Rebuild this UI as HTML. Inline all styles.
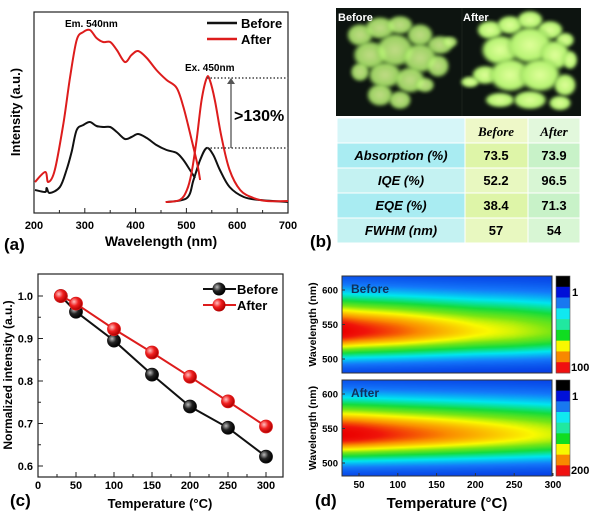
<!DOCTYPE html>
<html><head><meta charset="utf-8">
<style>
html,body{margin:0;padding:0;background:#fff;}
#wrap{position:relative;width:600px;height:515px;overflow:hidden;font-family:"Liberation Sans",sans-serif;}
svg{position:absolute;left:0;top:0;}
canvas{position:absolute;}
</style></head>
<body>
<div id="wrap">
<canvas id="hmTop" width="210" height="97" style="left:342px;top:276px"></canvas>
<canvas id="hmBot" width="210" height="96" style="left:342px;top:380px"></canvas>
<svg id="s" width="600" height="515" xmlns="http://www.w3.org/2000/svg">
<defs>
<radialGradient id="gBlack" cx="35%" cy="35%" r="65%"><stop offset="0" stop-color="#bbb"/><stop offset="0.5" stop-color="#222"/><stop offset="1" stop-color="#000"/></radialGradient>
<radialGradient id="gRed" cx="35%" cy="35%" r="65%"><stop offset="0" stop-color="#ffc0c0"/><stop offset="0.5" stop-color="#f02020"/><stop offset="1" stop-color="#b00000"/></radialGradient>
<radialGradient id="glow" cx="50%" cy="50%" r="50%"><stop offset="0" stop-color="#e0ff9a"/><stop offset="0.75" stop-color="#b4f270"/><stop offset="1" stop-color="#70b040" stop-opacity="0"/></radialGradient>
<filter id="bl"><feGaussianBlur stdDeviation="1.5"/></filter>
</defs>
<g id="pa"></g>
<g id="pb"></g>
<g id="pc"></g>
<g id="pd"></g>
</svg>
</div>
<script>
// ---- Panel (a) data ----
const exWlAfter = [202,222,228,241,258,271,284,297,310,323,336,350,363,379,392,405,422,441,461,481,494,507,521,527];
const exAfter = [31,41,31,43,90,136,173,181,183,175,171,171,163,151,158,162,155,143,133,125,106,80,50,33];
const exWlBefore = [202,222,225,231,251,264,274,284,297,310,323,336,350,363,379,392,405,422,441,461,481,494,507,517];
const exBefore = [23,21,25,20,26,43,61,83,88,91,87,86,86,81,74,76,79,75,68,63,60,53,43,35];
const emWlAfter = [459,487,501,510,520,530,540,546,556,569,585,606,632,658,700];
const emAfter = [11,13,23,40,73,113,135,133,113,76,43,23,15,12,12];
const emWlBefore = [461,501,514,527,540,553,566,585,613,645,700];
const emBefore = [11,15,33,53,65,58,43,26,16,13,11];
const aTicks = [200,300,400,500,600,700];
// ---- Panel (c) data ----
const temps = [30,50,100,150,200,250,300];
const normBefore = [1.0,0.963,0.895,0.815,0.74,0.69,0.622];
const normAfter = [1.0,0.982,0.922,0.867,0.81,0.752,0.693];
const cXTicks = [0,50,100,150,200,250,300];
const cYTicks = [0.6,0.7,0.8,0.9,1.0];
// ---- Panel (b) data ----
const tblRows = ["Absorption (%)","IQE (%)","EQE (%)","FWHM (nm)"];
const tblBefore = ["73.5","52.2","38.4","57"];
const tblAfter = ["73.9","96.5","71.3","54"];
// ---- Panel (d) data ----
const dXTicks = [50,100,150,200,250,300];
const dYTicks = [500,550,600];

const NS="http://www.w3.org/2000/svg";
function mk(parent,tag,attrs,text){const e=document.createElementNS(NS,tag);for(const k in attrs)e.setAttribute(k,attrs[k]);if(text!==undefined)e.textContent=text;parent.appendChild(e);return e;}
function smooth(pts){
  let d='M'+pts[0][0].toFixed(1)+' '+pts[0][1].toFixed(1);
  for(let i=0;i<pts.length-1;i++){
    const p0=pts[Math.max(0,i-1)],p1=pts[i],p2=pts[i+1],p3=pts[Math.min(pts.length-1,i+2)];
    const c1=[p1[0]+(p2[0]-p0[0])/6,p1[1]+(p2[1]-p0[1])/6],c2=[p2[0]-(p3[0]-p1[0])/6,p2[1]-(p3[1]-p1[1])/6];
    d+=` C${c1[0].toFixed(1)} ${c1[1].toFixed(1)} ${c2[0].toFixed(1)} ${c2[1].toFixed(1)} ${p2[0].toFixed(1)} ${p2[1].toFixed(1)}`;
  }
  return d;
}

// ===== Panel A =====
(function(){
const g=document.getElementById('pa');
const x=w=>34+(w-200)*0.508, y=v=>213-v;
let f=mk(g,'rect',{x:34,y:12,width:254,height:201,fill:'none',stroke:'#222','stroke-width':1.2});

for(let w=200;w<=700;w+=50){mk(g,'line',{x1:x(w),x2:x(w),y1:213,y2:w%100?210:208,stroke:'#222'});}
aTicks.forEach(t=>{let e=mk(g,'text',{x:x(t),y:229,'text-anchor':'middle','font-size':11,'font-weight':'bold'},t);});
let xl=mk(g,'text',{x:161,y:246,'text-anchor':'middle','font-size':14,'font-weight':'bold'},'Wavelength (nm)');
let yl=mk(g,'text',{x:20,y:112,'text-anchor':'middle','font-size':13,'font-weight':'bold',transform:'rotate(-90 20 112)'},'Intensity (a.u.)');
let pl=mk(g,'text',{x:4,y:250,'font-size':17,'font-weight':'bold'},'(a)');
function line(ws,vs,col,name){const p=mk(g,'path',{d:smooth(ws.map((w,i)=>[x(w),y(vs[i])])),fill:'none',stroke:col,'stroke-width':2,'stroke-linejoin':'round'});}
line(exWlBefore,exBefore,'#111','excitation-before');
line(emWlBefore,emBefore,'#111','emission-before');
line(exWlAfter,exAfter,'#dd1c1c','excitation-after');
line(emWlAfter,emAfter,'#dd1c1c','emission-after');
const pkA=Math.max(...emAfter),pkB=Math.max(...emBefore);
mk(g,'line',{x1:207,x2:288,y1:y(pkA),y2:y(pkA),stroke:'#444','stroke-dasharray':'1.5 2','stroke-width':1.5});
mk(g,'line',{x1:207,x2:288,y1:y(pkB),y2:y(pkB),stroke:'#444','stroke-dasharray':'1.5 2','stroke-width':1.5});
mk(g,'line',{x1:231,x2:231,y1:y(pkB),y2:y(pkA)+5,stroke:'#555','stroke-width':1.3});
mk(g,'path',{d:`M227 ${y(pkA)+6} L231 ${y(pkA)} L235 ${y(pkA)+6} Z`,fill:'#555'});
let pc=mk(g,'text',{x:234,y:121,'font-size':16,'font-weight':'bold'},'>130%');
let ex=mk(g,'text',{x:185,y:71,'font-size':10,'font-weight':'bold'},'Ex. 450nm');
let em=mk(g,'text',{x:65,y:27,'font-size':10,'font-weight':'bold'},'Em. 540nm');
mk(g,'line',{x1:207,x2:237,y1:23,y2:23,stroke:'#111','stroke-width':2.5});
let l1=mk(g,'text',{x:241,y:28,'font-size':13,'font-weight':'bold'},'Before');
mk(g,'line',{x1:207,x2:237,y1:39,y2:39,stroke:'#dd1c1c','stroke-width':2.5});
let l2=mk(g,'text',{x:241,y:44,'font-size':13,'font-weight':'bold'},'After');
})();

// ===== Panel B =====
(function(){
const g=document.getElementById('pb');
let ph=mk(g,'rect',{x:336,y:8,width:245,height:108,fill:'#0d1410'});
mk(g,'line',{x1:462,x2:462,y1:8,y2:116,stroke:'#1a221c','stroke-width':1});
const blobsB=[[360,35,14,12],[380,28,16,12],[400,25,14,10],[420,35,14,12],[440,45,14,10],[450,42,8,6],[370,55,18,15],[395,50,20,18],[420,58,18,16],[438,66,12,12],[385,75,18,14],[410,80,16,14],[380,95,14,12],[400,100,12,10],[425,85,10,8],[360,72,10,10]];
const blobsA=[[490,30,14,10],[510,25,14,10],[530,20,14,10],[550,30,14,10],[565,40,10,8],[500,50,20,16],[530,45,24,20],[555,55,16,16],[570,60,8,10],[485,75,14,10],[470,82,10,6],[510,75,22,18],[540,75,22,18],[565,85,12,12],[500,100,16,8],[530,100,18,10],[560,103,12,8]];
blobsB.forEach(b=>mk(g,'ellipse',{cx:b[0],cy:b[1],rx:b[2],ry:b[3],fill:'url(#glow)',opacity:0.85,filter:'url(#bl)'}));
blobsA.forEach(b=>mk(g,'ellipse',{cx:b[0],cy:b[1],rx:b[2],ry:b[3],fill:'url(#glow)',filter:'url(#bl)'}));
mk(g,'text',{x:338,y:21,'font-size':11,'font-weight':'bold',fill:'#fff'},'Before');
mk(g,'text',{x:463,y:21,'font-size':11,'font-weight':'bold',fill:'#fff'},'After');
const top=118,h=25;
for(let r=0;r<5;r++){
  const yy=top+r*h;
  const alt=(r%2===1);
  mk(g,'rect',{x:337,y:yy,width:128,height:h,fill:r===0?'#d6f6f8':(alt?'#a9ecf2':'#c4f2f2'),stroke:'#fff','stroke-width':1});
  mk(g,'rect',{x:465,y:yy,width:63,height:h,fill:r===0?'#eef8c8':(alt?'#def5a8':'#e8f8c0'),stroke:'#fff','stroke-width':1});
  mk(g,'rect',{x:528,y:yy,width:52,height:h,fill:r===0?'#e2f8dc':(alt?'#c8f2c8':'#d8f6d4'),stroke:'#fff','stroke-width':1});
}
let h1=mk(g,'text',{x:496,y:136,'text-anchor':'middle','font-size':13,'font-weight':'bold','font-style':'italic','font-family':'Liberation Serif, serif'},'Before');
let h2=mk(g,'text',{x:554,y:136,'text-anchor':'middle','font-size':13,'font-weight':'bold','font-style':'italic','font-family':'Liberation Serif, serif'},'After');
tblRows.forEach((r,i)=>{
  const yy=top+(i+1)*h+17;
  let a=mk(g,'text',{x:401,y:yy,'text-anchor':'middle','font-size':13,'font-weight':'bold','font-style':'italic'},r);
  let b=mk(g,'text',{x:496,y:yy,'text-anchor':'middle','font-size':13,'font-weight':'bold'},tblBefore[i]);
  let c=mk(g,'text',{x:554,y:yy,'text-anchor':'middle','font-size':13,'font-weight':'bold'},tblAfter[i]);
});
let pl=mk(g,'text',{x:310,y:247,'font-size':17,'font-weight':'bold'},'(b)');
})();

// ===== Panel C =====
(function(){
const g=document.getElementById('pc');
const x=t=>38+t*0.76, y=v=>296+(1-v)*425;
let f=mk(g,'rect',{x:38,y:274,width:245,height:203,fill:'none',stroke:'#222','stroke-width':1.2});
for(let t=0;t<=300;t+=25){mk(g,'line',{x1:x(t),x2:x(t),y1:477,y2:t%50?474:472,stroke:'#222'});}
for(let k=0;k<=8;k++){const v=0.6+k*0.05;mk(g,'line',{x1:38,x2:k%2?41:43,y1:y(v),y2:y(v),stroke:'#222'});}
cXTicks.forEach(t=>{let e=mk(g,'text',{x:x(t),y:489,'text-anchor':'middle','font-size':11,'font-weight':'bold'},t);});
cYTicks.forEach(v=>{let e=mk(g,'text',{x:33,y:y(v)+4,'text-anchor':'end','font-size':11,'font-weight':'bold'},v.toFixed(1));});
let xl=mk(g,'text',{x:160,y:508,'text-anchor':'middle','font-size':13,'font-weight':'bold'},'Temperature (°C)');
let yl=mk(g,'text',{x:12,y:375,'text-anchor':'middle','font-size':12,'font-weight':'bold',transform:'rotate(-90 12 375)'},'Normalized intensity (a.u.)');
let pl=mk(g,'text',{x:10,y:506,'font-size':17,'font-weight':'bold'},'(c)');
function series(vals,col,grad,name){
  const d=temps.map((t,i)=>(i?'L':'M')+x(t).toFixed(1)+' '+y(vals[i]).toFixed(1)).join(' ');
  const p=mk(g,'path',{d:d,fill:'none',stroke:col,'stroke-width':2});
  temps.forEach((t,i)=>{const c=mk(g,'circle',{cx:x(t),cy:y(vals[i]),r:6.5,fill:grad,stroke:col,'stroke-width':0.8});});
}
series(normBefore,'#111','url(#gBlack)','before');
series(normAfter,'#dd1c1c','url(#gRed)','after');
mk(g,'line',{x1:203,x2:236,y1:289,y2:289,stroke:'#111','stroke-width':2});
mk(g,'circle',{cx:219,cy:289,r:6.5,fill:'url(#gBlack)'});
let l1=mk(g,'text',{x:237,y:294,'font-size':13,'font-weight':'bold'},'Before');
mk(g,'line',{x1:203,x2:236,y1:305,y2:305,stroke:'#dd1c1c','stroke-width':2});
mk(g,'circle',{cx:219,cy:305,r:6.5,fill:'url(#gRed)'});
let l2=mk(g,'text',{x:237,y:310,'font-size':13,'font-weight':'bold'},'After');
})();

// ===== Panel D =====
function cmap(v){
  const stops=[[0,[0,40,220]],[0.2,[20,120,250]],[0.35,[0,230,240]],[0.5,[20,220,60]],[0.62,[120,230,20]],[0.72,[250,250,0]],[0.85,[250,140,0]],[0.95,[240,20,10]],[1,[235,0,0]]];
  v=Math.max(0,Math.min(1,v));
  for(let i=1;i<stops.length;i++){if(v<=stops[i][0]){const a=stops[i-1],b=stops[i];const f=(v-a[0])/(b[0]-a[0]);return a[1].map((c,k)=>Math.round(c+(b[1][k]-c)*f));}}
  return stops[stops.length-1][1];
}
function peakAt(t,vals){
  if(t<=temps[0])return vals[0];
  for(let i=1;i<temps.length;i++){if(t<=temps[i]){const f=(t-temps[i-1])/(temps[i]-temps[i-1]);return vals[i-1]+(vals[i]-vals[i-1])*f;}}
  return vals[vals.length-1];
}
function drawHM(id,vals,wTop,wBot){
  const cv=document.getElementById(id),ctx=cv.getContext('2d');
  const W=cv.width,H=cv.height,img=ctx.createImageData(W,H);
  for(let j=0;j<H;j++){
    const wl=wTop+(wBot-wTop)*j/(H-1);
    const s=wl>540?38:27;
    const shape=Math.exp(-Math.pow(wl-540,2)/(2*s*s));
    for(let i=0;i<W;i++){
      const t=28+272*i/(W-1);
      const c=cmap(shape*peakAt(t,vals));
      const o=(j*W+i)*4;img.data[o]=c[0];img.data[o+1]=c[1];img.data[o+2]=c[2];img.data[o+3]=255;
    }
  }
  ctx.putImageData(img,0,0);
}
drawHM('hmTop',normBefore,620,480);
drawHM('hmBot',normAfter,620,480);
(function(){
const g=document.getElementById('pd');
const x=t=>359+(t-50)*0.776;
const panels=[{y0:276,h:97,y600:290,y500:359,name:'Before',max:'100'},{y0:380,h:96,y600:394,y500:463,name:'After',max:'200'}];
const bands=['#000','#0010d8','#1878f0','#10e8f0','#20e8a0','#10dd20','#f8f800','#f88800','#f01010'];
panels.forEach((p,pi)=>{
  let f=mk(g,'rect',{x:342,y:p.y0,width:210,height:p.h,fill:'none',stroke:'#333','stroke-width':1});
  const yw=w=>p.y600+(600-w)*(p.y500-p.y600)/100;
  dYTicks.forEach(w=>{mk(g,'line',{x1:342,x2:345,y1:yw(w),y2:yw(w),stroke:'#333'});let e=mk(g,'text',{x:338,y:yw(w)+3.5,'text-anchor':'end','font-size':9.5,'font-weight':'bold'},w);});
  let yl=mk(g,'text',{x:316,y:p.y0+p.h/2,'text-anchor':'middle','font-size':10.5,'font-weight':'bold',transform:`rotate(-90 316 ${p.y0+p.h/2})`},'Wavelength (nm)');
  let lb=mk(g,'text',{x:351,y:p.y600+3,'font-size':12,'font-weight':'bold',fill:'#10305a'},p.name);
  const bh=p.h/bands.length;
  bands.forEach((c,k)=>{const r=mk(g,'rect',{x:556,y:p.y0+k*bh,width:14,height:bh+0.3,fill:c});});
  mk(g,'rect',{x:556,y:p.y0,width:14,height:p.h,fill:'none',stroke:'#555','stroke-width':0.6});
  mk(g,'text',{x:572,y:p.y0+bh*1.5+4,'font-size':11,'font-weight':'bold'},'1');
  mk(g,'text',{x:571,y:p.y0+p.h-2,'font-size':11,'font-weight':'bold'},p.max);
});
dXTicks.forEach(t=>{mk(g,'line',{x1:x(t),x2:x(t),y1:476,y2:473,stroke:'#333'});let e=mk(g,'text',{x:x(t),y:488,'text-anchor':'middle','font-size':10,'font-weight':'bold'},t);});
let xl=mk(g,'text',{x:447,y:508,'text-anchor':'middle','font-size':15,'font-weight':'bold'},'Temperature (°C)');
let pl=mk(g,'text',{x:315,y:506,'font-size':17,'font-weight':'bold'},'(d)');
})();
</script>
</body></html>
